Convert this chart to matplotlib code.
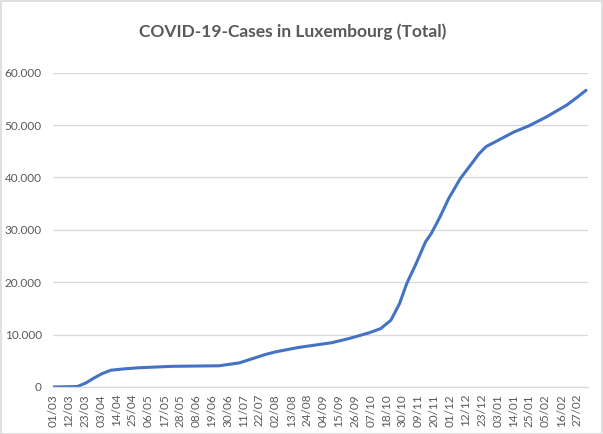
import matplotlib
matplotlib.use("Agg")
from matplotlib import pyplot as plt
from matplotlib.patches import Rectangle
import pandas as pd

# values (cumulative cases)
dates = ["2020-03-01", "2020-03-18", "2020-03-24", "2020-03-29", "2020-04-04",
         "2020-04-10", "2020-04-20", "2020-04-30", "2020-05-23", "2020-06-24",
         "2020-07-08", "2020-07-26", "2020-08-02", "2020-08-18", "2020-09-10",
         "2020-09-22", "2020-10-06", "2020-10-14", "2020-10-21", "2020-10-27",
         "2020-11-01", "2020-11-07", "2020-11-14", "2020-11-18", "2020-11-24",
         "2020-11-30", "2020-12-08", "2020-12-15", "2020-12-21", "2020-12-26",
         "2021-01-02", "2021-01-14", "2021-01-25", "2021-02-06", "2021-02-20",
         "2021-02-27", "2021-03-05"]
cases = [0, 100, 800, 1650, 2550,
         3200, 3480, 3680, 3950, 4050,
         4600, 6200, 6700, 7550, 8450,
         9250, 10350, 11150, 12750, 15900,
         19750, 23250, 27700, 29300, 32450,
         35950, 39750, 42300, 44500, 45900,
         46900, 48650, 49900, 51600, 53850,
         55300, 56600]

x_labels = ["01/03", "12/03", "23/03", "03/04", "14/04", "25/04", "06/05", "17/05",
            "28/05", "08/06", "19/06", "30/06", "11/07", "22/07", "02/08", "13/08",
            "24/08", "04/09", "15/09", "26/09", "07/10", "18/10", "30/10", "09/11",
            "20/11", "01/12", "12/12", "23/12", "03/01", "14/01", "25/01", "05/02",
            "16/02", "27/02"]
y_ticks = [0, 10000, 20000, 30000, 40000, 50000, 60000]
y_labels = ["0", "10.000", "20.000", "30.000", "40.000", "50.000", "60.000"]

start = pd.Timestamp("2020-03-01")
days = [(pd.Timestamp(d) - start).days for d in dates]

plt.rcParams['font.family'] = ['Lato', 'DejaVu Sans']
grey = "#595959"
gridc = "#D9D9D9"

fig = plt.figure(figsize=(6.03, 4.34), dpi=100)
ax = fig.add_axes([0.0879, 0.1083, 0.8871, 0.7242])

ax.plot(days, cases, color="#4472C4", linewidth=2.2, solid_joinstyle="round")

ax.set_xlim(0, 370.5)
ax.set_ylim(0, 60000)
ax.set_xticks([i * 11 for i in range(len(x_labels))])
ax.set_xticklabels(x_labels, rotation=90, fontsize=8.5, color=grey)
ax.set_yticks(y_ticks)
ax.set_yticklabels(y_labels, fontsize=8.5, color=grey)
ax.tick_params(axis="y", length=0, pad=8)
ax.tick_params(axis="x", length=0, pad=5)

ax.grid(axis="y", color=gridc, linewidth=0.9)
ax.set_axisbelow(True)
for side in ["top", "right", "left"]:
    ax.spines[side].set_visible(False)
ax.spines["bottom"].set_color(gridc)
ax.spines["bottom"].set_linewidth(0.9)

fig.text(0.485, 0.928, "COVID-19-Cases in Luxembourg (Total)", ha="center", va="center",
         fontsize=12.5, color=grey, fontweight="bold")

# light border around the chart area
fig.patches.append(Rectangle((0.001, 0.001), 0.997, 0.997, transform=fig.transFigure,
                             fill=False, edgecolor=gridc, linewidth=1.2))

fig.savefig("out.png", dpi=100)
